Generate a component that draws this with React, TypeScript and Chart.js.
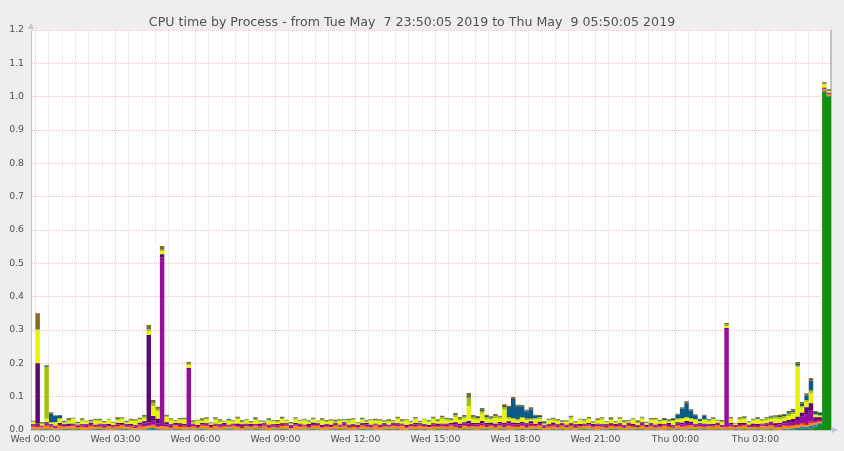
import React, { useEffect, useRef } from 'react';
import { Chart, registerables } from 'chart.js';

Chart.register(...registerables);

const TITLE = 'CPU time by Process - from Tue May  7 23:50:05 2019 to Thu May  9 05:50:05 2019';
const STEP_MINUTES = 10; // one sample every 10 minutes, first sample at Tue 23:50:05
const TOTAL_MINUTES = 1800;
const FIRST_LABEL_MINUTE = 10; // Wed 00:00
const GRID_MINUTES = 30;
const LABEL_MINUTES = 180;

const xTickLabels = ['Wed 00:00', 'Wed 03:00', 'Wed 06:00', 'Wed 09:00', 'Wed 12:00', 'Wed 15:00', 'Wed 18:00', 'Wed 21:00', 'Thu 00:00', 'Thu 03:00'];
const yMax = 1.2;
const yStep = 0.1;

// values in thousandths of CPU time, stacked bottom -> top
const greenProc = [
  1,0,1,2,1,0,1,1,2,1, 2,1,0,1,1,2,1,0,1,1, 1,2,1,1,0,1,2,2,1,1, 0,1,1,2,1,1,0,1,2,1,
  1,1,0,1,2,1,1,0,1,1, 2,1,1,0,1,1,2,1,0,1, 1,0,1,2,1,1,0,1,1,2, 1,1,0,1,2,1,1,1,0,1,
  2,1,1,0,1,1,2,1,1,0, 1,2,1,1,0,1,1,2,1,1, 0,1,2,1,1,2,1,0,1,2, 2,1,1,3,2,1,0,1,1,2,
  1,1,0,1,2,1,1,0,1,1, 2,1,1,0,1,1,2,1,0,1, 1,0,1,2,1,1,0,1,1,2, 1,1,0,1,2,1,1,0,1,1,
  2,1,1,0,1,1,2,1,0,1, 2,2,3,4,3,5,10,15,1015,1000, 1000,
];
const blueProc = [
  1,1,2,1,1,0,1,2,1,1, 1,0,1,1,2,1,1,1,0,1, 2,1,1,0,1,1,3,4,2,1, 1,1,2,1,0,1,1,1,2,1,
  0,1,1,1,2,1,0,1,1,1, 1,2,1,0,1,1,1,2,1,0, 1,1,1,2,1,0,1,1,2,1, 1,0,1,1,2,1,1,0,1,1,
  1,1,2,1,0,1,1,1,2,1, 0,1,1,2,1,1,1,0,2,1, 1,2,1,1,0,1,2,1,1,1, 1,1,2,1,1,0,1,2,1,1,
  0,1,1,1,2,1,1,0,1,1, 1,2,1,0,1,1,1,2,1,1, 1,1,0,1,1,2,1,1,2,1, 1,2,1,1,0,1,1,1,2,1,
  0,1,1,2,1,1,1,0,1,2, 2,3,4,6,5,8,6,5,2,2, 2,
];
const orangeProc = [
  6,8,4,9,6,4,10,5,7,9, 4,8,6,10,5,7,4,9,6,8, 10,5,7,4,9,8,6,7,5,9, 7,4,10,6,8,5,9,4,7,10,
  5,9,6,8,4,10,7,5,9,6, 8,4,10,6,7,5,9,8,4,10, 6,9,5,8,10,4,7,6,9,5, 10,6,8,4,9,7,5,10,6,8,
  5,9,7,10,4,8,6,9,5,7, 9,5,8,6,10,7,4,9,6,8, 7,10,5,9,6,8,4,10,7,6, 8,5,9,6,10,4,8,7,5,9,
  6,10,4,8,7,9,5,10,6,4, 9,6,8,5,10,7,4,9,6,8, 5,8,10,6,4,9,7,8,10,5, 8,4,9,7,10,6,5,9,4,8,
  10,6,7,5,9,8,10,6,7,9, 6,7,8,6,7,8,6,5,4,4, 4,
];
const redProc = [
  2,3,1,2,2,1,3,2,1,2, 2,1,2,3,1,2,2,1,3,2, 1,2,2,1,3,2,2,3,2,1, 2,2,1,3,2,1,2,2,3,1,
  2,1,3,2,2,1,2,3,1,2, 2,3,1,2,1,2,3,2,1,2, 3,1,2,2,1,3,2,1,2,2, 1,2,3,1,2,2,1,3,2,1,
  2,2,1,3,2,1,2,2,3,1, 2,3,1,2,2,1,3,2,2,1, 3,2,1,2,2,3,1,2,2,3, 2,2,3,1,2,1,2,3,1,2,
  1,3,2,2,1,2,3,1,2,2, 3,1,2,2,3,1,2,2,1,3, 2,1,2,3,1,2,2,3,2,1, 2,3,1,2,2,1,3,2,1,2,
  2,1,3,2,2,1,2,3,1,2, 3,2,3,4,3,4,2,2,1,1, 1,
];
const magentaProc = [
  4,8,3,5,4,6,3,5,4,3, 5,4,6,3,4,5,6,4,3,5, 4,6,3,5,4,8,10,14,9,505, 7,5,4,6,3,175,5,4,3,6,
  4,5,3,6,4,3,5,6,4,5, 3,5,4,6,4,5,3,4,6,4, 5,3,6,4,5,4,6,3,5,4, 6,4,3,5,4,6,5,3,4,5,
  4,6,5,3,5,4,6,4,5,3, 5,4,6,5,4,7,5,6,8,5, 6,5,7,5,4,6,8,7,6,5, 6,7,5,4,6,5,4,5,6,4,
  5,4,6,3,5,4,5,6,4,5, 3,5,4,6,4,5,3,5,4,6, 4,5,3,6,4,5,7,8,6,5, 4,6,5,3,5,4,293,5,4,6,
  4,5,3,6,4,5,7,5,8,6, 9,10,12,20,30,35,6,6,3,3, 3,
];
const purpleProc = [
  3,180,2,4,3,2,3,2,4,3, 2,3,2,4,3,2,3,3,2,4, 3,2,4,3,5,6,262,12,15,10, 6,4,3,2,4,3,2,3,4,2,
  3,2,4,3,2,3,4,2,3,3, 2,4,3,2,3,4,2,3,2,4, 3,2,3,4,2,3,2,4,3,2, 4,3,2,3,2,4,3,2,3,4,
  2,3,4,2,3,2,4,3,2,3, 3,4,2,3,4,6,5,4,8,5, 4,7,5,4,6,4,5,6,5,4, 5,4,6,3,4,3,2,4,3,2,
  3,2,4,3,2,4,3,2,3,4, 2,3,4,2,3,3,2,4,3,2, 3,4,2,3,3,4,5,6,4,3, 4,3,2,4,3,2,3,4,2,3,
  3,2,4,3,2,4,3,5,4,6, 8,9,10,12,20,20,8,5,2,2, 2,
];
const yellowProc = [
  6,100,5,11,3,9,12,4,8,13, 3,10,6,2,12,7,4,11,5,9, 12,4,8,13,9,10,12,30,22,10, 15,11,4,9,13,8,3,12,6,10,
  4,12,7,3,11,6,13,5,9,3, 11,6,2,12,8,4,13,7,3,10, 7,12,4,9,3,13,6,10,2,11, 5,9,13,4,10,3,12,7,11,4,
  9,3,12,6,13,5,10,2,11,8, 12,6,14,9,7,15,10,13,45,12, 10,22,12,9,16,10,40,8,9,7, 11,9,5,13,8,4,12,6,10,3,
  8,13,4,11,6,12,3,9,14,5, 10,4,12,7,3,13,6,11,5,9, 13,6,10,4,12,8,11,9,7,12, 5,11,7,13,4,9,6,12,3,10,
  12,6,9,13,7,10,8,14,12,10, 12,14,148,15,15,30,6,4,10,4, 4,
];
const oliveProc = [
  2,3,3,155,4,2,3,2,4,3, 2,4,3,2,3,4,2,3,2,3, 3,2,4,3,2,4,5,10,8,4, 3,4,2,3,2,5,3,2,4,3,
  2,3,4,2,3,2,4,3,2,3, 4,2,3,3,2,4,3,2,3,4, 2,3,4,2,3,3,2,4,3,2, 3,4,2,3,2,4,3,3,2,4,
  3,2,4,3,2,3,4,2,3,3, 4,3,5,4,3,6,5,4,25,6, 5,8,6,5,6,4,8,5,4,5, 4,5,3,4,5,3,2,4,3,2,
  3,4,2,3,4,2,3,3,4,2, 3,2,4,3,3,2,4,3,2,3, 4,3,2,3,4,3,3,2,4,3, 2,3,4,3,2,3,4,2,3,3,
  4,2,3,3,4,5,4,6,5,6, 7,6,5,4,6,8,4,3,2,2, 2,
];
const tealProc = [
  1,2,1,2,25,18,8,3,2,1, 2,1,1,3,2,1,2,1,1,2, 1,2,1,1,2,1,3,2,2,1, 2,1,1,2,1,1,2,1,2,1,
  1,2,1,1,2,1,1,2,1,1, 2,1,1,2,1,1,2,1,1,2, 1,1,2,1,1,2,1,1,2,1, 1,2,1,1,2,1,1,2,1,1,
  2,1,1,2,1,1,2,1,1,2, 1,2,1,2,2,3,2,2,4,2, 3,4,3,2,3,2,3,30,58,38, 32,22,28,8,4,3,2,2,1,2,
  1,2,1,1,2,1,1,2,1,1, 2,1,1,2,1,1,2,1,2,1, 1,2,3,2,4,12,28,42,22,12, 5,10,3,2,1,2,1,2,1,1,
  2,1,1,2,1,2,3,2,4,3, 4,5,5,8,15,30,6,6,2,2, 2,
];
const brownProc = [
  2,45,2,3,4,2,1,2,3,1, 2,3,1,2,1,3,2,1,2,3, 1,2,3,1,2,4,10,6,4,10, 3,2,1,2,3,4,2,1,2,3,
  1,2,3,1,2,1,3,2,1,2, 3,1,2,2,1,3,2,1,3,1, 2,2,1,3,1,2,3,1,2,2, 1,3,2,1,2,2,1,3,2,1,
  2,1,3,2,1,2,2,3,1,2, 3,2,4,3,2,4,3,3,10,4, 3,5,4,3,4,3,5,4,6,5, 4,5,6,3,3,2,1,3,2,2,
  1,3,2,1,2,3,1,2,2,1, 3,2,1,2,2,1,3,2,1,2, 2,1,3,2,2,3,4,6,4,3, 2,3,1,2,2,1,4,2,1,3,
  2,1,2,3,1,2,3,2,4,3, 4,5,6,5,6,8,3,2,2,2, 2,
];
// thin gray trace at the very end of the period (minute, value)
const grayTailMinutes = [1800, 1800];
const grayTailValues = [0, 1.3];

const stackSeries = [
  { name: 'green', values: greenProc, color: '#139013' },
  { name: 'blue', values: blueProc, color: '#1f6fc4' },
  { name: 'orange', values: orangeProc, color: '#ff8a00' },
  { name: 'red', values: redProc, color: '#e3231b' },
  { name: 'magenta', values: magentaProc, color: '#990f9c' },
  { name: 'purple', values: purpleProc, color: '#5a0b70' },
  { name: 'yellow', values: yellowProc, color: '#e9f20a' },
  { name: 'olive', values: oliveProc, color: '#a4c20a' },
  { name: 'teal', values: tealProc, color: '#0c5a8a' },
  { name: 'brown', values: brownProc, color: '#8a6a22' },
];

const FONT = '"DejaVu Sans", sans-serif';
const TEXT_COLOR = '#505050';
const AXIS_COLOR = '#c4c4d4';

const decor = {
  id: 'decor',
  beforeDraw(chart: any) {
    const { ctx, chartArea: a, width, height } = chart;
    ctx.save();
    ctx.fillStyle = '#eeeeee';
    ctx.fillRect(0, 0, width, height);
    ctx.fillStyle = '#ffffff';
    ctx.fillRect(a.left, a.top, a.right - a.left, a.bottom - a.top);
    ctx.restore();
  },
  afterDraw(chart: any) {
    const { ctx, chartArea: a } = chart;
    ctx.save();
    ctx.fillStyle = TEXT_COLOR;
    ctx.font = `12.6px ${FONT}`;
    ctx.textAlign = 'center';
    ctx.textBaseline = 'alphabetic';
    ctx.fillText(TITLE, 412, 26);
    ctx.fillStyle = AXIS_COLOR;
    ctx.beginPath();
    ctx.moveTo(a.left - 3, a.top - 1);
    ctx.lineTo(a.left + 3, a.top - 1);
    ctx.lineTo(a.left, a.top - 7);
    ctx.closePath();
    ctx.fill();
    ctx.beginPath();
    ctx.moveTo(a.right + 1, a.bottom - 3);
    ctx.lineTo(a.right + 1, a.bottom + 3);
    ctx.lineTo(a.right + 7, a.bottom);
    ctx.closePath();
    ctx.fill();
    ctx.restore();
  },
};

const isLabelMinute = (v: number) => (v - FIRST_LABEL_MINUTE) % LABEL_MINUTES === 0;

export default function App() {
  const ref = useRef<HTMLCanvasElement | null>(null);
  useEffect(() => {
    if (!ref.current) return;
    const datasets: any[] = stackSeries.map((s, k) => ({
      label: s.name,
      data: s.values.map((v, i) => ({ x: i * STEP_MINUTES, y: v / 1000 })),
      backgroundColor: s.color,
      borderColor: 'transparent',
      borderWidth: 0,
      pointRadius: 0,
      stepped: 'before',
      fill: k === 0 ? 'origin' : '-1',
      stack: 'cpu',
    }));
    datasets.push({
      label: 'gray',
      data: grayTailMinutes.map((m, i) => ({ x: m, y: grayTailValues[i] })),
      borderColor: '#8c8c8c',
      borderWidth: 1,
      pointRadius: 0,
      fill: false,
      stack: 'tail',
      clip: { left: 0, top: 0, right: 3, bottom: 0 },
    });
    const gridMinutes: number[] = [];
    for (let m = FIRST_LABEL_MINUTE; m < TOTAL_MINUTES; m += GRID_MINUTES) gridMinutes.push(m);
    const chart = new Chart(ref.current, {
      type: 'line',
      data: { datasets },
      plugins: [decor],
      options: {
        animation: false,
        responsive: false,
        devicePixelRatio: 1,
        events: [],
        layout: { autoPadding: false, padding: { top: 30, right: 13, left: 0, bottom: 0 } },
        plugins: { legend: { display: false }, tooltip: { enabled: false }, title: { display: false } },
        scales: {
          x: {
            type: 'linear',
            min: 0,
            max: TOTAL_MINUTES,
            afterBuildTicks: (s: any) => { s.ticks = gridMinutes.map((v) => ({ value: v })); },
            afterFit: (s: any) => { s.height = 21; },
            grid: {
              drawTicks: false,
              lineWidth: 1,
              color: (c: any) => (c.tick && isLabelMinute(c.tick.value) ? 'rgba(225,150,150,0.5)' : 'rgba(190,190,190,0.45)'),
            },
            border: { display: true, color: AXIS_COLOR, width: 1, dash: [1, 1] },
            ticks: {
              autoSkip: false,
              maxRotation: 0,
              minRotation: 0,
              padding: 4,
              color: TEXT_COLOR,
              font: { family: FONT, size: 9.3 },
              callback: (v: any) => (isLabelMinute(Number(v)) ? xTickLabels[(Number(v) - FIRST_LABEL_MINUTE) / LABEL_MINUTES] : ''),
            },
          },
          y: {
            stacked: true,
            min: 0,
            max: yMax,
            afterFit: (s: any) => { s.width = 31; },
            grid: { drawTicks: false, lineWidth: 1, color: 'rgba(225,150,150,0.55)' },
            border: { display: true, color: AXIS_COLOR, width: 1, dash: [1, 1] },
            ticks: {
              stepSize: yStep,
              padding: 7,
              color: TEXT_COLOR,
              font: { family: FONT, size: 9.3 },
              callback: (v: any) => Number(v).toFixed(1),
            },
          },
        },
      } as any,
    });
    return () => chart.destroy();
  }, []);
  return (
    <div style={{ position: 'fixed', left: 0, top: 0, width: 844, height: 451 }}>
      <canvas ref={ref} width={844} height={451} style={{ width: 844, height: 451, display: 'block' }} />
    </div>
  );
}
